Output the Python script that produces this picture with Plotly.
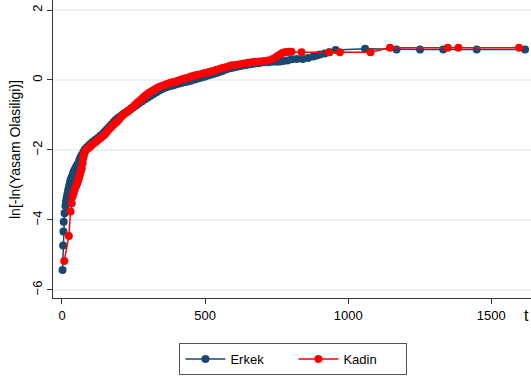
import plotly.graph_objects as go

# Log-minus-log survival estimates by group
t_erkek = [2, 4, 5, 6, 9, 12, 14, 16, 18, 20, 22, 24, 26, 28, 30, 33, 36, 39, 42, 45,
           48, 51, 55, 60, 64, 69, 75, 80, 87, 95, 102, 109, 117, 125, 134, 144, 150,
           157, 165, 172, 180, 186, 191, 197, 204, 210, 217, 224, 232, 240, 247, 255,
           262, 270, 280, 290, 300, 310, 320, 330, 340, 350, 360, 370, 380, 390, 400,
           410, 420, 430, 440, 450, 460, 470, 480, 490, 500, 510, 520, 529, 540, 550,
           560, 570, 580, 590, 600, 612, 625, 635, 645, 660, 672, 685, 697, 710, 722,
           735, 750, 762, 773, 788, 802, 820, 841, 860, 878, 890, 901, 918, 934, 956,
           1059, 1169, 1251, 1332, 1449, 1618]
lml_erkek = [-5.43, -4.73, -4.33, -4.05, -3.81, -3.60, -3.48, -3.38, -3.30, -3.22, -3.14,
             -3.07, -3.00, -2.93, -2.86, -2.80, -2.74, -2.66, -2.60, -2.55, -2.51, -2.46,
             -2.40, -2.30, -2.22, -2.14, -2.05, -1.98, -1.92, -1.86, -1.81, -1.76, -1.71,
             -1.66, -1.59, -1.52, -1.47, -1.41, -1.34, -1.28, -1.21, -1.16, -1.12, -1.08,
             -1.04, -1.00, -0.96, -0.92, -0.88, -0.83, -0.79, -0.75, -0.71, -0.66, -0.61,
             -0.55, -0.50, -0.45, -0.40, -0.35, -0.30, -0.26, -0.22, -0.19, -0.17, -0.15,
             -0.12, -0.10, -0.08, -0.06, -0.04, -0.02, 0.01, 0.03, 0.06, 0.08, 0.10, 0.13,
             0.15, 0.17, 0.20, 0.23, 0.26, 0.29, 0.32, 0.34, 0.36, 0.38, 0.40, 0.42, 0.43,
             0.45, 0.47, 0.48, 0.50, 0.51, 0.51, 0.52, 0.52, 0.53, 0.54, 0.56, 0.59, 0.60,
             0.60, 0.63, 0.67, 0.70, 0.73, 0.76, 0.79, 0.86, 0.89, 0.87, 0.87, 0.87, 0.87,
             0.87]

t_kadin = [8, 24, 30, 34, 37, 41, 45, 50, 54, 57, 60, 63, 66, 69, 72, 74, 77, 80, 84, 90,
           95, 100, 104, 110, 116, 122, 128, 135, 144, 150, 156, 162, 168, 174, 179, 185,
           191, 198, 204, 210, 216, 222, 228, 232, 238, 244, 250, 256, 262, 268, 274, 279,
           284, 290, 296, 302, 308, 314, 320, 327, 334, 342, 350, 358, 365, 372, 380, 389,
           398, 405, 412, 420, 428, 436, 445, 452, 460, 470, 480, 494, 505, 512, 520, 530,
           540, 552, 563, 575, 585, 593, 605, 620, 635, 650, 662, 674, 690, 705, 720, 735,
           748, 756, 764, 770, 778, 785, 794, 802, 837, 934, 971, 1078, 1146, 1348, 1385,
           1597]
lml_kadin = [-5.17, -4.46, -3.76, -3.52, -3.33, -3.22, -3.12, -3.02, -2.94, -2.86, -2.78,
             -2.70, -2.61, -2.52, -2.38, -2.24, -2.14, -2.06, -2.00, -1.96, -1.93, -1.89,
             -1.86, -1.82, -1.78, -1.74, -1.70, -1.66, -1.60, -1.55, -1.49, -1.43, -1.38,
             -1.33, -1.28, -1.24, -1.20, -1.14, -1.08, -1.03, -0.98, -0.94, -0.91, -0.88,
             -0.84, -0.80, -0.76, -0.71, -0.66, -0.62, -0.58, -0.54, -0.50, -0.46, -0.42,
             -0.38, -0.35, -0.32, -0.29, -0.26, -0.22, -0.19, -0.17, -0.14, -0.12, -0.10,
             -0.08, -0.06, -0.04, -0.02, 0.00, 0.02, 0.04, 0.06, 0.08, 0.10, 0.12, 0.14,
             0.16, 0.19, 0.21, 0.22, 0.24, 0.26, 0.29, 0.32, 0.35, 0.37, 0.40, 0.42, 0.43,
             0.45, 0.47, 0.49, 0.51, 0.52, 0.53, 0.54, 0.56, 0.60, 0.66, 0.70, 0.74, 0.77,
             0.79, 0.80, 0.81, 0.81, 0.79, 0.79, 0.79, 0.79, 0.92, 0.92, 0.92, 0.92]

x_ticks = [0, 500, 1000, 1500]
y_ticks = [-6, -4, -2, 0, 2]

NAVY = "#1a476f"
RED = "#ff0000"
FONT = "Arial, Liberation Sans, Helvetica, sans-serif"

fig = go.Figure()
fig.add_trace(go.Scatter(
    x=t_erkek, y=lml_erkek, mode="lines+markers", name="Erkek",
    line=dict(color=NAVY, width=1.5),
    marker=dict(color=NAVY, size=8, symbol="circle"),
))
fig.add_trace(go.Scatter(
    x=t_kadin, y=lml_kadin, mode="lines+markers", name="Kadin",
    line=dict(color=RED, width=1.5),
    marker=dict(color=RED, size=8, symbol="circle"),
))

fig.update_layout(
    width=531, height=376,
    margin=dict(l=53, r=0, t=0, b=78),
    plot_bgcolor="white", paper_bgcolor="white",
    font=dict(family=FONT, size=13, color="#000"),
    xaxis=dict(
        range=[-31.4, 1638.7], tickvals=x_ticks, ticks="outside", ticklen=5,
        tickcolor="#333", showline=True, linecolor="#333", linewidth=1,
        showgrid=False, zeroline=False, tickfont=dict(size=13),
    ),
    yaxis=dict(
        range=[-6.23, 2.286], tickvals=y_ticks, tickangle=-90, ticks="outside",
        ticklen=5, tickcolor="#333", showline=True, linecolor="#333", linewidth=1,
        showgrid=True, gridcolor="#eaf2f3", gridwidth=1.5, zeroline=False,
        tickfont=dict(size=13),
    ),
    legend=dict(
        orientation="h", x=0.503, xanchor="center", y=-0.151, yanchor="top",
        bordercolor="#555", borderwidth=1, font=dict(size=13), itemwidth=40,
        entrywidth=58, entrywidthmode="pixels", bgcolor="white",
    ),
    annotations=[
        dict(text="ln[-ln(Yasam Olasiligi)]", textangle=-90, xref="paper", yref="paper",
             x=-0.0795, y=0.5, xanchor="center", yanchor="middle", showarrow=False,
             font=dict(size=14)),
        dict(text="t", xref="paper", yref="paper", x=0.9916, y=-0.0604,
             xanchor="center", yanchor="middle", showarrow=False, font=dict(size=16)),
    ],
)

fig.write_html("out.html")
